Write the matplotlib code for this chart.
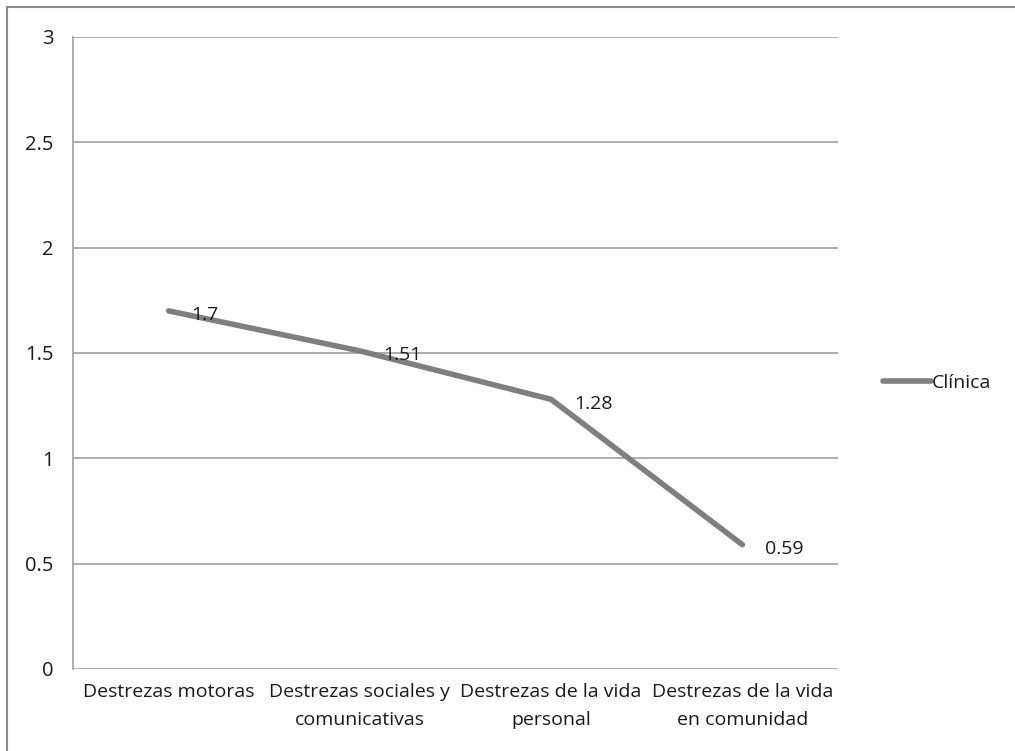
import matplotlib.pyplot as plt
from matplotlib.patches import Rectangle

categorias = ['Destrezas motoras', 'Destrezas sociales y\ncomunicativas',
              'Destrezas de la vida\npersonal', 'Destrezas de la vida\nen comunidad']
clinica = [1.7, 1.51, 1.28, 0.59]
etiquetas = ['1.7', '1.51', '1.28', '0.59']
yticks = [0, 0.5, 1, 1.5, 2, 2.5, 3]

plt.rcParams['font.family'] = ['Open Sans', 'DejaVu Sans']
gris = '#7f7f7f'
texto = '#1a1a1a'

fig = plt.figure(figsize=(10.15, 7.51), dpi=100)
ax = fig.add_axes([73/1015, 1 - 669/751, (838-73)/1015, (669-37)/751])

x = list(range(len(categorias)))
linea, = ax.plot(x, clinica, color=gris, lw=4.0, solid_capstyle='round', label='Clínica')
for xi, yi, t in zip(x, clinica, etiquetas):
    ax.annotate(t, (xi, yi), xytext=(16.5, -3), textcoords='offset points',
                fontsize=14, color=texto, va='center', ha='left')

ax.set_xlim(-0.5, 3.5)
ax.set_ylim(0, 3)
ax.set_yticks(yticks)
ax.set_yticklabels(['0', '0.5', '1', '1.5', '2', '2.5', '3'])
ax.set_xticks(x)
ax.set_xticklabels(categorias, fontsize=14, color=texto, linespacing=1.75)
ax.tick_params(axis='y', length=0, pad=14, labelsize=14.5, labelcolor=texto)
ax.tick_params(axis='x', length=0, pad=10)
ax.grid(axis='y', color='#a6a6a6', lw=1.3)
for s in ['top', 'right', 'bottom']:
    ax.spines[s].set_visible(False)
ax.spines['left'].set_color('#a6a6a6')
ax.spines['left'].set_linewidth(1.3)

fig.legend(handles=[linea], loc='center left', bbox_to_anchor=(865/1015, 1 - 383/751),
           frameon=False, fontsize=14, handlelength=2.5, handletextpad=0.05,
           labelcolor=texto)

fig.patches.append(Rectangle((7/1015, -0.1), 1.2, 1 - 7/751 + 0.1, transform=fig.transFigure,
                             fill=False, edgecolor='#8c8c8c', lw=1.5))
fig.savefig('out.png', dpi=100)
